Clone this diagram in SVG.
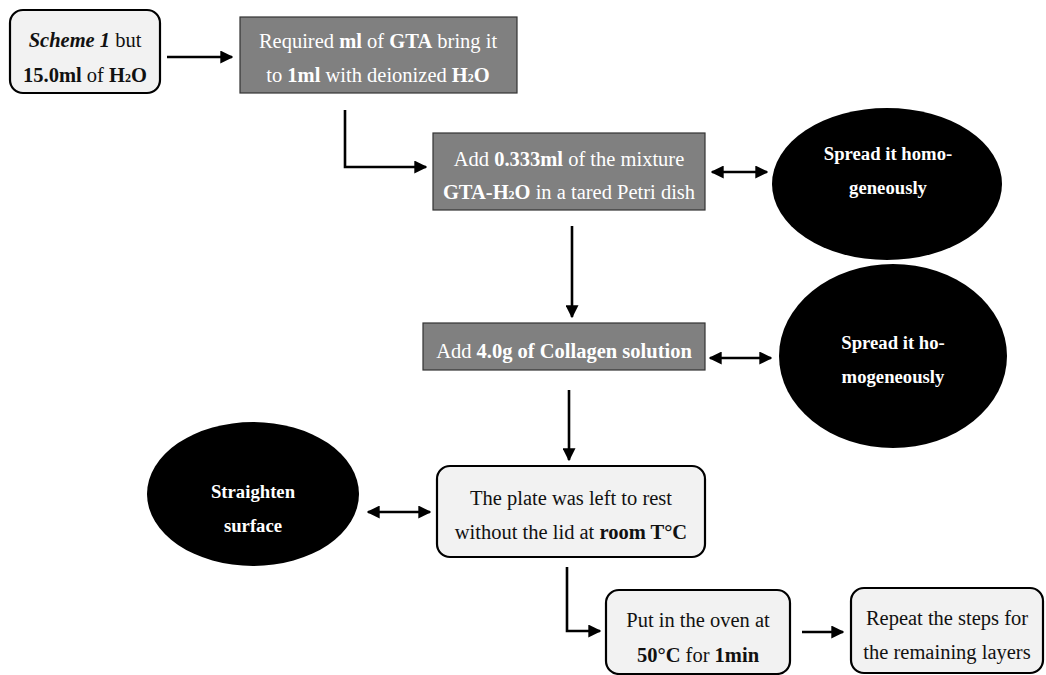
<svg xmlns="http://www.w3.org/2000/svg" width="1046" height="675" viewBox="0 0 1046 675">
<defs>
<marker id="ah" viewBox="0 0 10 10" refX="9" refY="5" markerWidth="5" markerHeight="5" orient="auto-start-reverse" markerUnits="strokeWidth">
<path d="M0,0 L10,5 L0,10 Z" fill="#000"/>
</marker>
<style>
.rb{fill:#f2f2f2;stroke:#000;stroke-width:2.2}
.gb{fill:#808080;stroke:#333;stroke-width:1.2}
.el{fill:#000}
text{font-family:"Liberation Serif","Times New Roman",serif;font-size:20.5px;text-anchor:middle}
.dk{fill:#111}
.wt{fill:#fff}
.et{fill:#fff;font-weight:bold;font-size:18.7px}
.b{font-weight:bold}
.i{font-style:italic}
.sub{font-size:12px}
.ln{fill:none;stroke:#000;stroke-width:2.6}
</style>
</defs>
<rect width="1046" height="675" fill="#fff"/>
<g id="connectors">
<line class="ln" x1="167" y1="57" x2="232" y2="57" marker-end="url(#ah)"/>
<polyline class="ln" points="345,110 345,167 426,167" marker-end="url(#ah)"/>
<line class="ln" x1="712" y1="172" x2="767" y2="172" marker-start="url(#ah)" marker-end="url(#ah)"/>
<line class="ln" x1="572" y1="226" x2="572" y2="317" marker-end="url(#ah)"/>
<line class="ln" x1="710" y1="358" x2="771" y2="358" marker-start="url(#ah)" marker-end="url(#ah)"/>
<line class="ln" x1="569" y1="390" x2="569" y2="460" marker-end="url(#ah)"/>
<line class="ln" x1="368" y1="512" x2="430" y2="512" marker-start="url(#ah)" marker-end="url(#ah)"/>
<polyline class="ln" points="567,567 567,631 600,631" marker-end="url(#ah)"/>
<line class="ln" x1="802" y1="632" x2="843" y2="632" marker-end="url(#ah)"/>
</g>
<g id="n1">
<rect class="rb" x="10" y="10" width="150" height="83" rx="13"/>
<text class="dk" x="85" y="47"><tspan class="i b">Scheme 1</tspan> but</text>
<text class="dk" x="85" y="82"><tspan class="b">15.0ml</tspan> of <tspan class="b">H</tspan><tspan class="b sub">2</tspan><tspan class="b">O</tspan></text>
</g>
<g id="n2">
<rect class="gb" x="240" y="17" width="277" height="76"/>
<text class="wt" x="378" y="48">Required <tspan class="b">ml</tspan> of <tspan class="b">GTA</tspan> bring it</text>
<text class="wt" x="378" y="82">to <tspan class="b">1ml</tspan> with deionized <tspan class="b">H</tspan><tspan class="b sub">2</tspan><tspan class="b">O</tspan></text>
</g>
<g id="n3">
<rect class="gb" x="433" y="133" width="272" height="77"/>
<text class="wt" x="569" y="166">Add <tspan class="b">0.333ml</tspan> of the mixture</text>
<text class="wt" x="569" y="199"><tspan class="b">GTA-H</tspan><tspan class="b sub">2</tspan><tspan class="b">O</tspan> in a tared Petri dish</text>
</g>
<g id="n4">
<ellipse class="el" cx="887" cy="184" rx="115" ry="76"/>
<text class="et" x="888" y="160">Spread it homo-</text>
<text class="et" x="888" y="194">geneously</text>
</g>
<g id="n5">
<rect class="gb" x="423" y="323" width="282" height="47"/>
<text class="wt" x="564" y="358">Add <tspan class="b">4.0g of Collagen solution</tspan></text>
</g>
<g id="n6">
<ellipse class="el" cx="893" cy="356" rx="114" ry="92"/>
<text class="et" x="893" y="349">Spread it ho-</text>
<text class="et" x="893" y="383">mogeneously</text>
</g>
<g id="n7">
<ellipse class="el" cx="253" cy="494" rx="106" ry="72"/>
<text class="et" x="253" y="498">Straighten</text>
<text class="et" x="253" y="532">surface</text>
</g>
<g id="n8">
<rect class="rb" x="437" y="466" width="268" height="91" rx="13"/>
<text class="dk" x="571" y="505">The plate was left to rest</text>
<text class="dk" x="571" y="539">without the lid at <tspan class="b">room T°C</tspan></text>
</g>
<g id="n9">
<rect class="rb" x="606" y="590" width="184" height="84" rx="13"/>
<text class="dk" x="698" y="627">Put in the oven at</text>
<text class="dk" x="698" y="662"><tspan class="b">50°C</tspan> for <tspan class="b">1min</tspan></text>
</g>
<g id="n10">
<rect class="rb" x="851" y="588" width="192" height="85" rx="13"/>
<text class="dk" x="947" y="625">Repeat the steps for</text>
<text class="dk" x="947" y="659">the remaining layers</text>
</g>
</svg>
